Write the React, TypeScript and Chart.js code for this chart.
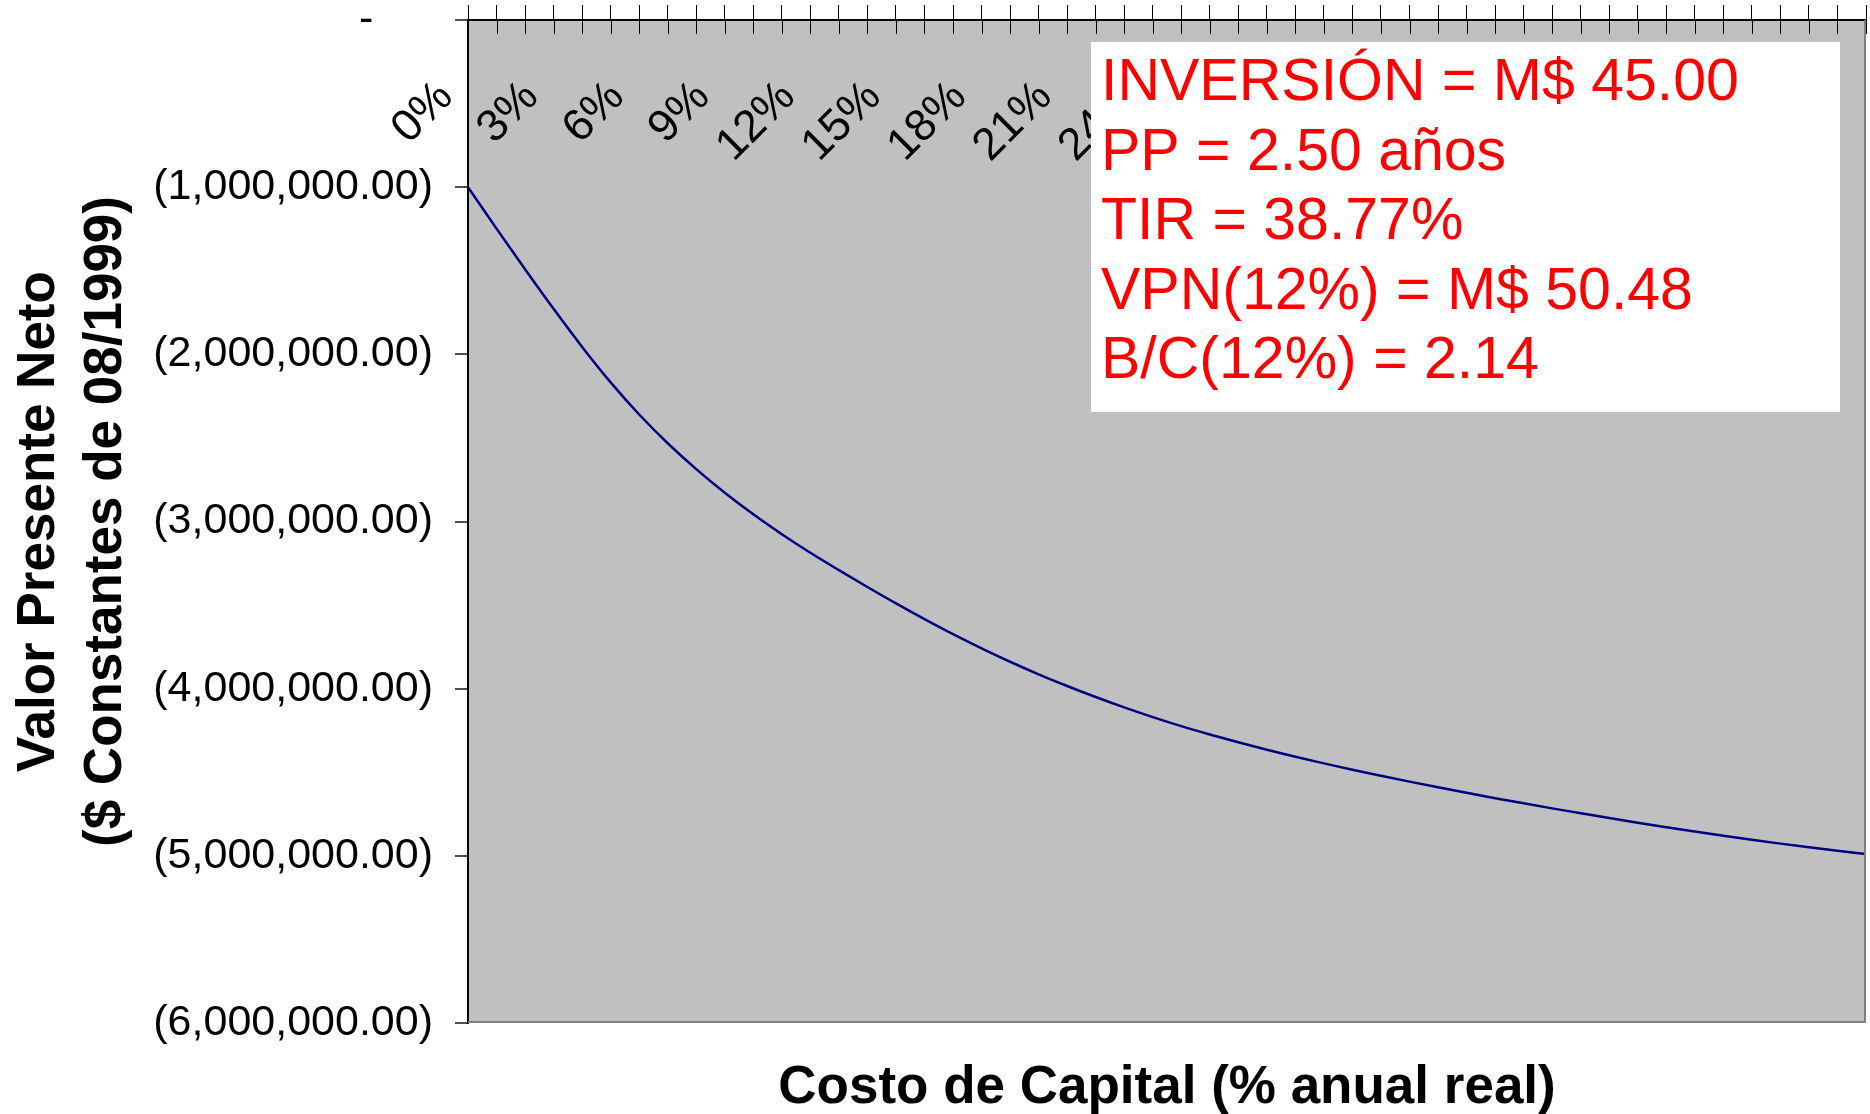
import React, { useEffect, useRef } from 'react';
import { Chart, registerables } from 'chart.js';

Chart.register(...registerables);

// ---- data ----
const RATE_LABELS = [
  '0%', '1%', '2%', '3%', '4%', '5%', '6%', '7%', '8%', '9%',
  '10%', '11%', '12%', '13%', '14%', '15%', '16%', '17%', '18%', '19%',
  '20%', '21%', '22%', '23%', '24%', '25%', '26%', '27%', '28%', '29%',
  '30%', '31%', '32%', '33%', '34%', '35%', '36%', '37%', '38%', '39%',
  '40%', '41%', '42%', '43%', '44%', '45%', '46%', '47%', '48%', '49%',
];

const NPV_VALUES = [
  -1000000, -1248000, -1491000, -1728000, -1956000, -2168000, -2360000, -2532000, -2687000, -2828000,
  -2957000, -3076000, -3187000, -3291000, -3392000, -3490000, -3584000, -3674000, -3759000, -3839000,
  -3914000, -3984000, -4050000, -4112000, -4170000, -4224000, -4274000, -4321000, -4365000, -4407000,
  -4447000, -4485000, -4521000, -4556000, -4590000, -4623000, -4655000, -4686000, -4716000, -4745000,
  -4774000, -4802000, -4829000, -4855000, -4880000, -4904000, -4927000, -4949000, -4970000, -4989000,
];

const Y_MIN = -6000000;
const Y_MAX = 0;
const Y_STEP = 1000000;
const LABEL_EVERY = 3;

const Y_TITLE = ['Valor Presente Neto', '($ Constantes de 08/1999)'];
const X_TITLE = 'Costo de Capital (% anual real)';
const SUMMARY_LINES = [
  'INVERSIÓN = M$ 45.00',
  'PP = 2.50 años',
  'TIR = 38.77%',
  'VPN(12%) = M$ 50.48',
  'B/C(12%) = 2.14',
];

const FONT = "'Liberation Sans', Arial, Helvetica, sans-serif";

function formatAccounting(v: number): string {
  if (v === 0) return '-     ';
  const s = Math.abs(v).toLocaleString('en-US', { minimumFractionDigits: 2, maximumFractionDigits: 2 });
  return v < 0 ? '(' + s + ')' : s + ' ';
}

const decorPlugin = {
  id: 'decor',
  beforeDraw(chart: any) {
    const { ctx, chartArea: ca } = chart;
    ctx.save();
    ctx.fillStyle = '#ffffff';
    ctx.fillRect(0, 0, chart.width, chart.height);
    ctx.fillStyle = '#C0C0C0';
    ctx.fillRect(ca.left, ca.top, ca.right - ca.left, ca.bottom - ca.top);
    ctx.restore();
  },
  afterDatasetsDraw(chart: any) {
    const { ctx, chartArea: ca } = chart;
    const xs = chart.scales.x;
    const labels = chart.data.labels as string[];
    ctx.save();

    // right and bottom plot border
    ctx.strokeStyle = '#808080';
    ctx.lineWidth = 2;
    ctx.beginPath();
    ctx.moveTo(ca.left, ca.bottom - 1);
    ctx.lineTo(ca.right - 1, ca.bottom - 1);
    ctx.lineTo(ca.right - 1, ca.top);
    ctx.stroke();

    // inner half of the crossing tick marks of the category axis
    ctx.strokeStyle = '#000000';
    ctx.lineWidth = 1;
    ctx.beginPath();
    for (let i = 0; i < xs.ticks.length; i++) {
      const x = Math.round(xs.getPixelForTick(i)) + 0.5;
      ctx.moveTo(x, ca.top);
      ctx.lineTo(x, ca.top + 14);
    }
    ctx.stroke();

    // rotated category labels, below the axis line
    ctx.fillStyle = '#000000';
    ctx.font = `45px ${FONT}`;
    ctx.textAlign = 'right';
    ctx.textBaseline = 'middle';
    for (let i = 0; i < xs.ticks.length; i++) {
      if (i % LABEL_EVERY !== 0) continue;
      const x = xs.getPixelForTick(i) - 22;
      const y = ca.top + 70;
      ctx.save();
      ctx.translate(x, y);
      ctx.rotate(-Math.PI / 4);
      ctx.fillText(labels[i], 0, 0);
      ctx.restore();
    }

    // summary box
    const bx = ca.left + 623;
    const by = ca.top + 22;
    const bw = 749;
    const bh = 370;
    ctx.fillStyle = '#ffffff';
    ctx.fillRect(bx, by, bw, bh);
    ctx.fillStyle = '#FF0000';
    ctx.font = `59px ${FONT}`;
    ctx.textAlign = 'left';
    ctx.textBaseline = 'alphabetic';
    SUMMARY_LINES.forEach((line, i) => {
      ctx.fillText(line, bx + 10, by + 58 + i * 69.5);
    });

    ctx.restore();
  },
};

export default function App() {
  const ref = useRef<HTMLCanvasElement>(null);

  useEffect(() => {
    const canvas = ref.current;
    if (!canvas) return;
    Chart.defaults.font.family = FONT;
    const chart = new Chart(canvas, {
      type: 'line',
      data: {
        labels: RATE_LABELS,
        datasets: [
          {
            data: NPV_VALUES,
            borderColor: '#000080',
            borderWidth: 2.5,
            pointRadius: 0,
            fill: false,
            cubicInterpolationMode: 'monotone',
            xAxisID: 'x',
            yAxisID: 'y',
          },
        ],
      },
      options: {
        responsive: false,
        animation: false,
        devicePixelRatio: 1,
        layout: { padding: { left: 0, top: 0, right: 4, bottom: 0 } },
        plugins: {
          legend: { display: false },
          tooltip: { enabled: false },
          title: { display: false },
        },
        scales: {
          x: {
            type: 'category',
            position: 'top',
            offset: false,
            grid: {
              display: true,
              drawOnChartArea: false,
              drawTicks: true,
              tickLength: 15,
              color: '#000000',
              lineWidth: 1,
            },
            border: { display: true, color: '#000000', width: 2 },
            ticks: { display: false, autoSkip: false },
            afterFit: (s: any) => {
              s.height = 20;
              s.paddingLeft = 0;
              s.paddingRight = 0;
            },
          },
          x2: {
            type: 'category',
            position: 'bottom',
            display: true,
            grid: { display: false },
            border: { display: false },
            ticks: { display: false },
            title: {
              display: true,
              text: X_TITLE,
              color: '#000000',
              font: { family: FONT, size: 53, weight: 'bold', lineHeight: 0.8 },
              padding: { top: 0, bottom: 4 },
            },
            afterFit: (s: any) => {
              s.height = 91;
              s.paddingLeft = 0;
              s.paddingRight = 0;
            },
          },
          y: {
            type: 'linear',
            position: 'left',
            min: Y_MIN,
            max: Y_MAX,
            grid: {
              display: true,
              drawOnChartArea: false,
              drawTicks: true,
              tickLength: 13,
              color: '#505050',
              lineWidth: 2,
            },
            border: { display: true, color: '#000000', width: 2 },
            ticks: {
              stepSize: Y_STEP,
              color: '#000000',
              padding: 22,
              font: { family: FONT, size: 43 },
              callback: (v: any) => formatAccounting(Number(v)),
            },
            title: {
              display: true,
              text: Y_TITLE,
              color: '#000000',
              font: { family: FONT, size: 53, weight: 'bold', lineHeight: 1.28 },
              padding: { top: 5, bottom: 0 },
            },
            afterFit: (s: any) => {
              s.width = 468;
              s.paddingTop = 0;
              s.paddingBottom = 0;
            },
          },
        },
      },
      plugins: [decorPlugin],
    } as any);
    return () => chart.destroy();
  }, []);

  return (
    <div style={{ position: 'fixed', left: 0, top: 0, width: 1870, height: 1114, background: '#ffffff' }}>
      <canvas ref={ref} width={1870} height={1114} style={{ display: 'block', width: 1870, height: 1114 }} />
    </div>
  );
}
